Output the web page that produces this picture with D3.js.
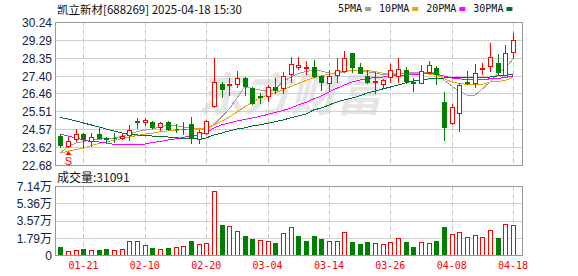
<!DOCTYPE html>
<html>
<head>
<meta charset="utf-8">
<script src="https://cdn.jsdelivr.net/npm/d3@7"></script>
<style>
  html, body { margin: 0; padding: 0; background: #fff; }
  svg { display: block; }
</style>
</head>
<body>
<svg id="chart" width="578" height="276"></svg>
<script>
// Daily K-line data, 2025-01-16 .. 2025-04-18
const dates = ['01-16','01-17','01-20','01-21','01-22','01-23','01-24','01-27',
  '02-05','02-06','02-07','02-10','02-11','02-12','02-13','02-14','02-17','02-18','02-19','02-20',
  '02-21','02-24','02-25','02-26','02-27','02-28','03-03','03-04','03-05','03-06','03-07','03-10',
  '03-11','03-12','03-13','03-14','03-17','03-18','03-19','03-20','03-21','03-24','03-25','03-26',
  '03-27','03-28','03-31','04-01','04-02','04-03','04-07','04-08','04-09','04-10','04-11','04-14',
  '04-15','04-16','04-17','04-18'];

const open = [24.21, 23.70, 24.04, 24.30, 23.97, 24.30, 24.13, 24.12, 24.09, 24.27,
  24.99, 24.96, 24.97, 24.71, 24.97, 24.60, 24.57, 24.85, 24.06, 24.36,
  25.80, 26.96, 26.93, 26.96, 27.26, 26.74, 26.32, 26.33, 26.79, 26.74,
  27.49, 27.85, 27.83, 27.85, 27.40, 27.03, 27.44, 27.67, 28.62, 27.85,
  27.39, 27.06, 26.96, 27.35, 27.39, 27.70, 27.05, 27.03, 27.61, 27.79,
  26.03, 24.89, 25.41, 27.05, 27.00, 27.74, 27.91, 28.06, 27.44, 28.67];
const close = [23.74, 23.95, 24.30, 24.04, 24.18, 24.09, 24.08, 24.10, 24.21, 24.53,
  24.96, 25.06, 24.68, 24.88, 24.57, 24.58, 24.60, 24.09, 24.44, 25.01,
  27.05, 26.70, 26.98, 27.26, 26.86, 25.97, 26.29, 26.82, 26.65, 27.40,
  28.00, 27.97, 27.87, 27.40, 27.08, 27.39, 27.70, 28.32, 27.88, 27.56,
  27.08, 27.14, 27.18, 27.72, 27.76, 27.14, 27.03, 27.67, 27.97, 27.49,
  24.71, 25.73, 26.91, 27.03, 27.53, 27.79, 28.37, 27.58, 28.62, 29.29];
const high = [24.32, 24.18, 24.58, 24.36, 24.36, 24.67, 24.18, 24.36, 24.39, 24.77,
  25.18, 25.18, 25.02, 24.97, 25.02, 24.83, 24.97, 25.20, 24.53, 25.08,
  28.32, 27.08, 27.26, 27.65, 27.35, 26.79, 26.50, 26.91, 27.26, 27.61,
  28.41, 28.37, 28.18, 28.23, 27.44, 27.70, 28.35, 28.71, 28.62, 28.06,
  27.70, 27.61, 27.21, 28.02, 28.32, 27.88, 27.26, 27.97, 28.19, 27.91,
  26.56, 25.91, 26.99, 27.65, 28.02, 28.09, 29.15, 28.53, 29.02, 29.64];
const low = [23.62, 23.65, 23.97, 23.65, 23.70, 24.09, 23.92, 23.92, 24.04, 23.98,
  24.65, 24.80, 24.62, 24.53, 24.53, 24.44, 24.32, 23.86, 23.86, 24.32,
  25.73, 26.26, 26.38, 26.79, 26.38, 25.88, 25.95, 26.08, 26.50, 26.50,
  27.08, 27.74, 27.48, 27.35, 26.65, 26.65, 27.08, 27.61, 27.61, 27.53,
  27.03, 26.47, 26.82, 27.08, 27.08, 27.03, 26.61, 27.00, 27.53, 26.96,
  24.00, 24.85, 24.49, 26.96, 26.82, 27.49, 27.67, 27.44, 27.44, 28.32];

// volume in 万 (10k lots)
const volume = [0.80, 0.42, 0.49, 0.63, 0.49, 0.52, 0.63, 0.52, 0.59, 1.46,
  1.46, 1.01, 0.73, 0.59, 0.73, 0.80, 0.91, 1.46, 1.12, 1.22,
  6.66, 3.14, 2.96, 2.48, 1.95, 1.67, 1.53, 1.46, 1.25, 2.27,
  2.89, 1.99, 1.50, 1.99, 1.67, 1.46, 1.46, 2.40, 1.39, 1.15,
  1.39, 1.25, 1.15, 1.36, 1.74, 1.39, 0.84, 1.36, 1.25, 1.46,
  2.93, 2.20, 2.40, 1.85, 2.06, 1.85, 2.58, 1.78, 3.24, 3.11];

const ma5 = [23.33, 23.66, 23.84, 23.92, 24.00, 24.04, 24.08, 24.09, 24.19, 24.32,
  24.45, 24.53, 24.58, 24.69, 24.80, 24.77, 24.69, 24.62, 24.56, 24.56,
  24.82, 25.22, 25.64, 26.22, 26.80, 26.73, 26.65, 26.57, 26.70, 27.07,
  27.33, 27.52, 27.62, 27.70, 27.65, 27.54, 27.49, 27.60, 27.70, 27.65,
  27.61, 27.54, 27.47, 27.47, 27.49, 27.54, 27.57, 27.57, 27.60, 27.57,
  27.17, 26.86, 26.57, 26.38, 26.36, 26.70, 27.07, 27.52, 27.81, 28.28];
const ma10 = [23.30, 23.42, 23.50, 23.56, 23.71, 23.82, 23.90, 23.98, 24.08, 24.16,
  24.24, 24.32, 24.37, 24.43, 24.48, 24.51, 24.56, 24.58, 24.61, 24.62,
  24.80, 24.98, 25.22, 25.48, 25.75, 25.99, 26.22, 26.38, 26.51, 26.65,
  26.83, 26.99, 27.15, 27.28, 27.39, 27.49, 27.57, 27.65, 27.70, 27.70,
  27.68, 27.62, 27.54, 27.53, 27.53, 27.53, 27.53, 27.52, 27.49, 27.44,
  27.25, 27.07, 26.99, 26.94, 26.91, 26.94, 27.07, 27.10, 27.15, 27.33];
const ma20 = [24.32, 24.21, 24.11, 24.00, 23.92, 23.90, 23.84, 23.77, 23.74, 23.74,
  23.74, 23.79, 23.87, 23.92, 24.00, 24.06, 24.14, 24.21, 24.27, 24.37,
  24.64, 24.80, 24.90, 25.01, 25.09, 25.17, 25.25, 25.35, 25.46, 25.56,
  25.69, 25.85, 25.99, 26.17, 26.33, 26.54, 26.73, 26.91, 27.07, 27.17,
  27.25, 27.31, 27.33, 27.39, 27.41, 27.44, 27.47, 27.49, 27.52, 27.49,
  27.39, 27.28, 27.23, 27.21, 27.21, 27.21, 27.23, 27.25, 27.31, 27.39];
const ma30 = [25.19, 25.11, 25.01, 24.90, 24.80, 24.69, 24.58, 24.48, 24.37, 24.29,
  24.27, 24.24, 24.21, 24.19, 24.16, 24.14, 24.06, 24.06, 24.06, 24.11,
  24.27, 24.37, 24.48, 24.58, 24.64, 24.74, 24.80, 24.88, 24.97, 25.06,
  25.17, 25.27, 25.38, 25.59, 25.69, 25.85, 26.01, 26.12, 26.22, 26.33,
  26.49, 26.59, 26.70, 26.80, 26.91, 27.02, 27.12, 27.17, 27.23, 27.25,
  27.28, 27.28, 27.28, 27.28, 27.28, 27.31, 27.33, 27.39, 27.44, 27.49];

const maNames = ['5PMA', '10PMA', '20PMA', '30PMA'];
const priceTicks = [22.68, 23.62, 24.57, 25.51, 26.46, 27.40, 28.35, 29.29, 30.24];
const volTicks = [0, 1.79, 3.57, 5.36, 7.14];
const dateTicks = ['01-21', '02-10', '02-20', '03-04', '03-14', '03-26', '04-08', '04-18'];
const title = '凯立新材[688269] 2025-04-18 15:30';
const lastVolume = 31091;
const signals = [{date: '01-17', label: 'S'}];

const RED = '#ff0000';
const GREEN = '#008000';
const maColors = ['#a0a0a0', '#f5a300', '#ff00ff', '#006f35'];
const AXIS_FONT = '"Liberation Sans", Arial, "Noto Sans CJK SC", sans-serif';
const MONO_FONT = '"DejaVu Sans Mono", monospace';
const CJK_FONT = '"Noto Sans CJK SC", sans-serif';

const conf = {
  left: 55, right: 522,
  priceTop: 22, priceBottom: 165,
  volTop: 186, volBottom: 255
};

const svg = d3.select('#chart');

const x = d3.scaleBand().domain(dates).range([56.6, 516.9]);
const cx = d => Math.round(x(d) + x.bandwidth() / 2);
const y = d3.scaleLinear().domain([22.68, 30.24]).range([conf.priceBottom, conf.priceTop]);
const v = d3.scaleLinear().domain([0, 7.14]).range([conf.volBottom, conf.volTop]);

const bars = dates.map((d, i) => ({
  d, o: open[i], h: high[i], l: low[i], c: close[i], vol: volume[i],
  up: close[i] > open[i],
  volUp: close[i] >= (i ? close[i - 1] : open[i])
}));

// Watermark
svg.append('text')
  .attr('x', 198).attr('y', 111)
  .attr('font-family', CJK_FONT)
  .attr('font-size', 46).attr('font-weight', 'bold').attr('font-style', 'italic')
  .attr('fill', '#e6e6e6')
  .text('东方财富');

// Grid lines
const grid = svg.append('g').attr('shape-rendering', 'crispEdges');
grid.selectAll('.hp').data(priceTicks.slice(1, -1)).enter().append('line')
  .attr('x1', conf.left).attr('x2', conf.right)
  .attr('y1', t => Math.round(y(t)) + 0.5).attr('y2', t => Math.round(y(t)) + 0.5)
  .attr('stroke', '#d0d0d0');
grid.selectAll('.hv').data(volTicks.slice(1, -1)).enter().append('line')
  .attr('x1', conf.left).attr('x2', conf.right)
  .attr('y1', t => Math.round(v(t)) + 0.5).attr('y2', t => Math.round(v(t)) + 0.5)
  .attr('stroke', '#d0d0d0');
[[conf.priceTop, conf.priceBottom], [conf.volTop, conf.volBottom]].forEach(([t, b]) => {
  grid.selectAll(null).data(dateTicks).enter().append('line')
    .attr('x1', d => cx(d) + 0.5).attr('x2', d => cx(d) + 0.5)
    .attr('y1', t).attr('y2', b)
    .attr('stroke', '#c8c8c8')
    .attr('stroke-dasharray', '5,3');
});

// Moving averages
const line = d3.line().x((val, i) => x(dates[i]) + x.bandwidth() / 2).y(val => y(val));
svg.append('g').selectAll('path')
  .data([ma5, ma10, ma20, ma30])
  .enter().append('path')
  .attr('d', line)
  .attr('fill', 'none')
  .attr('stroke', (s, i) => maColors[i])
  .attr('stroke-width', 1)
  .attr('shape-rendering', 'crispEdges');

// Candles: wick first, body drawn over it
const bodyPath = (px, top, bot) => `M${px - 1.5},${top + 0.5}h4v${Math.max(0, bot - top)}h-4Z`;
const candles = svg.append('g').attr('shape-rendering', 'crispEdges');
candles.selectAll('line').data(bars).enter().append('line')
  .attr('x1', b => cx(b.d) + 0.5).attr('x2', b => cx(b.d) + 0.5)
  .attr('y1', b => Math.round(y(b.h))).attr('y2', b => Math.round(y(b.l)) + 1)
  .attr('stroke', b => b.up ? RED : GREEN);
candles.selectAll('path').data(bars).enter().append('path')
  .attr('d', b => bodyPath(cx(b.d), Math.round(y(Math.max(b.o, b.c))), Math.round(y(Math.min(b.o, b.c)))))
  .attr('fill', b => b.up ? '#fff' : GREEN)
  .attr('stroke', b => b.up ? RED : GREEN);

// Signal marker
const sig = svg.append('g');
signals.forEach(s => {
  const i = dates.indexOf(s.date);
  const px = cx(s.date) + 0.5;
  const top = Math.round(y(low[i])) + 4;
  sig.append('path')
    .attr('d', `M${px},${top}l-3,4h6Z`)
    .attr('fill', RED);
  sig.append('text')
    .attr('x', px).attr('y', top + 14)
    .attr('text-anchor', 'middle')
    .attr('font-family', AXIS_FONT).attr('font-size', 11)
    .attr('fill', RED)
    .text(s.label);
});

// Volume bars
svg.append('g').attr('shape-rendering', 'crispEdges')
  .selectAll('path').data(bars).enter().append('path')
  .attr('d', b => bodyPath(cx(b.d), Math.round(v(b.vol)), conf.volBottom))
  .attr('fill', b => b.volUp ? '#fff' : GREEN)
  .attr('stroke', b => b.volUp ? RED : GREEN);

// Frames
const frame = svg.append('g').attr('shape-rendering', 'crispEdges')
  .attr('fill', 'none').attr('stroke', '#999');
frame.append('rect')
  .attr('x', conf.left + 0.5).attr('y', conf.priceTop + 0.5)
  .attr('width', conf.right - conf.left).attr('height', conf.priceBottom - conf.priceTop);
frame.append('rect')
  .attr('x', conf.left + 0.5).attr('y', conf.volTop + 0.5)
  .attr('width', conf.right - conf.left).attr('height', conf.volBottom - conf.volTop);

// Axes
function styleAxis(g, color, font, size) {
  g.select('.domain').remove();
  g.selectAll('text').attr('fill', color).attr('font-family', font).attr('font-size', size);
}
svg.append('g')
  .attr('transform', `translate(${conf.left},0.5)`)
  .call(d3.axisLeft(y).tickValues(priceTicks).tickSize(0).tickPadding(3).tickFormat(d3.format('.2f')))
  .call(g => styleAxis(g, '#14233f', AXIS_FONT, 12));
svg.append('g')
  .attr('transform', `translate(${conf.left},0.5)`)
  .call(d3.axisLeft(v).tickValues(volTicks).tickSize(0).tickPadding(3)
    .tickFormat(t => t === 0 ? '0' : d3.format('.2f')(t) + '万'))
  .call(g => styleAxis(g, '#14233f', AXIS_FONT, 12));
svg.append('g')
  .attr('transform', `translate(0,${conf.volBottom})`)
  .call(d3.axisBottom(x).tickValues(dateTicks).tickSize(0).tickPadding(7))
  .call(g => styleAxis(g, RED, MONO_FONT, 10));

// Title and volume label
svg.append('text')
  .attr('x', 57).attr('y', 13.5)
  .attr('font-family', CJK_FONT).attr('font-size', 11.5).attr('fill', '#111')
  .text(title);
svg.append('text')
  .attr('x', 57).attr('y', 182)
  .attr('font-family', CJK_FONT).attr('font-size', 12).attr('fill', '#111')
  .text('成交量:' + lastVolume);

// Legend
const legend = svg.append('g');
let lx = 338;
maNames.forEach((name, i) => {
  const t = legend.append('text')
    .attr('x', lx).attr('y', 12)
    .attr('font-family', MONO_FONT).attr('font-size', 10).attr('fill', '#111')
    .text(name);
  const w = t.node().getComputedTextLength();
  legend.append('rect')
    .attr('x', lx + w + 3).attr('y', 7)
    .attr('width', 6).attr('height', 4)
    .attr('fill', maColors[i]);
  lx += w + 17;
});
</script>
</body>
</html>
